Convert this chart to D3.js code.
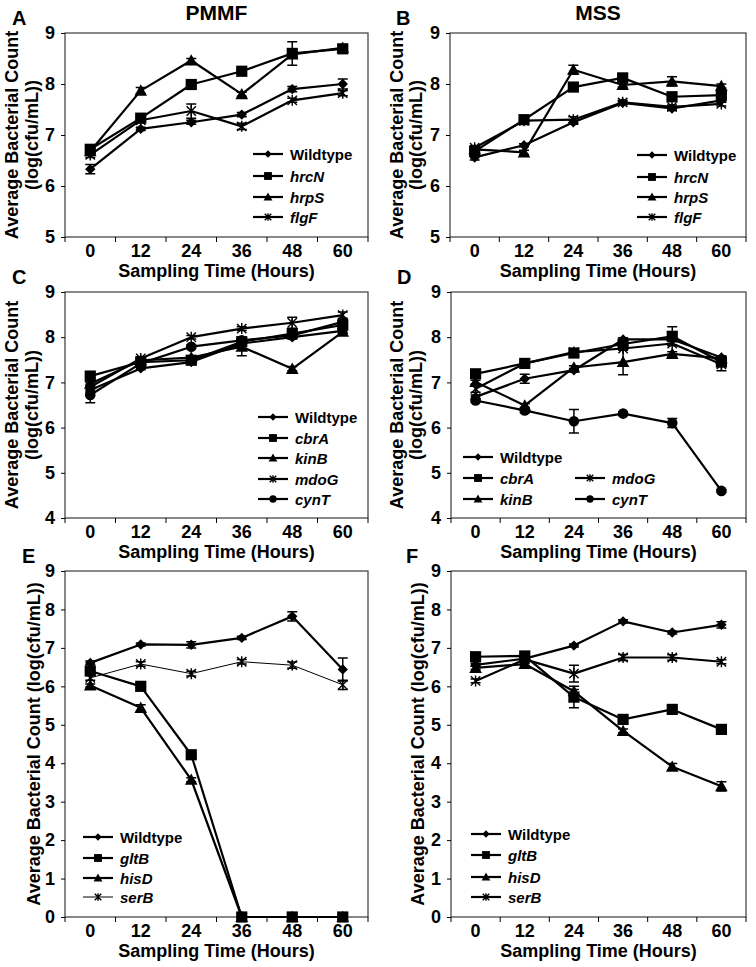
<!DOCTYPE html>
<html><head><meta charset="utf-8">
<script src="https://cdn.jsdelivr.net/npm/d3@7"></script>
<style>
body{margin:0;background:#fff}
svg{display:block}
text{font-family:"Liberation Sans",Arial,sans-serif;font-weight:bold;fill:#000}
</style>
</head><body>
<svg id="chart" width="756" height="967"></svg>
<script>
// ---------- data ----------
const hours = ["0", "12", "24", "36", "48", "60"];
const ticksAB = [5, 6, 7, 8, 9];
const ticksCD = [4, 5, 6, 7, 8, 9];
const ticksEF = [0, 1, 2, 3, 4, 5, 6, 7, 8, 9];
const columnTitles = ["PMMF", "MSS"];
const yTitleLine1 = "Average Bacterial Count";
const yTitleLine2 = "(log(cfu/mL))";
const xTitle = "Sampling Time (Hours)";

// Panel A (PMMF)
const aWildtype = [6.33, 7.12, 7.25, 7.40, 7.90, 8.00];
const aWildtypeErr = [0.09, 0.03, 0.04, 0.04, 0.05, 0.10];
const aHrcN = [6.72, 7.33, 7.99, 8.25, 8.60, 8.69];
const aHrcNErr = [0.04, 0.04, 0.04, 0.03, 0.23, 0.05];
const aHrpS = [6.68, 7.87, 8.46, 7.80, 8.58, 8.71];
const aHrpSErr = [0.03, 0.06, 0.04, 0.04, 0.05, 0.04];
const aFlgF = [6.61, 7.29, 7.47, 7.17, 7.68, 7.82];
const aFlgFErr = [0.05, 0.03, 0.14, 0.06, 0.04, 0.05];

// Panel B (MSS)
const bWildtype = [6.56, 6.80, 7.25, 7.63, 7.52, 7.68];
const bWildtypeErr = [0.05, 0.03, 0.04, 0.03, 0.04, 0.04];
const bHrcN = [6.68, 7.30, 7.94, 8.12, 7.75, 7.78];
const bHrcNErr = [0.04, 0.03, 0.04, 0.04, 0.04, 0.05];
const bHrpS = [6.72, 6.66, 8.28, 7.98, 8.05, 7.96];
const bHrpSErr = [0.04, 0.04, 0.09, 0.04, 0.09, 0.04];
const bFlgF = [6.75, 7.28, 7.30, 7.64, 7.55, 7.61];
const bFlgFErr = [0.04, 0.03, 0.06, 0.04, 0.04, 0.04];

// Panel C (PMMF)
const cWildtype = [6.83, 7.31, 7.45, 7.86, 8.00, 8.14];
const cWildtypeErr = [0.05, 0.03, 0.04, 0.04, 0.04, 0.04];
const cCbrA = [7.14, 7.45, 7.49, 7.90, 8.08, 8.27];
const cCbrAErr = [0.04, 0.03, 0.06, 0.04, 0.05, 0.06];
const cKinB = [6.97, 7.49, 7.55, 7.79, 7.30, 8.12];
const cKinBErr = [0.04, 0.04, 0.04, 0.20, 0.05, 0.04];
const cMdoG = [6.90, 7.53, 8.00, 8.19, 8.32, 8.49];
const cMdoGErr = [0.04, 0.04, 0.04, 0.04, 0.12, 0.07];
const cCynT = [6.72, 7.42, 7.79, 7.93, 8.04, 8.34];
const cCynTErr = [0.17, 0.04, 0.04, 0.04, 0.04, 0.04];

// Panel D (MSS)
const dWildtype = [6.68, 7.08, 7.27, 7.95, 7.95, 7.55];
const dWildtypeErr = [0.04, 0.10, 0.04, 0.04, 0.04, 0.04];
const dCbrA = [7.19, 7.42, 7.65, 7.85, 8.02, 7.45];
const dCbrAErr = [0.04, 0.04, 0.04, 0.04, 0.21, 0.05];
const dKinB = [7.01, 6.49, 7.33, 7.45, 7.63, 7.53];
const dKinBErr = [0.04, 0.04, 0.04, 0.28, 0.05, 0.04];
const dMdoG = [6.86, 7.42, 7.67, 7.75, 7.86, 7.40];
const dMdoGErr = [0.08, 0.04, 0.04, 0.04, 0.04, 0.14];
const dCynT = [6.60, 6.38, 6.14, 6.31, 6.10, 4.60];
const dCynTErr = [0.04, 0.05, 0.26, 0.04, 0.10, 0.03];

// Panel E (PMMF)
const eWildtype = [6.61, 7.09, 7.08, 7.26, 7.82, 6.44];
const eWildtypeErr = [0.05, 0.04, 0.08, 0.04, 0.12, 0.30];
const eGltB = [6.40, 6.00, 4.22, 0, 0, 0];
const eGltBErr = [0.05, 0.04, 0.05, 0, 0, 0];
const eHisD = [6.02, 5.44, 3.57, 0, 0, 0];
const eHisDErr = [0.04, 0.08, 0.05, 0, 0, 0];
const eSerB = [6.22, 6.58, 6.33, 6.64, 6.55, 6.04];
const eSerBErr = [0.06, 0.06, 0.06, 0.06, 0.08, 0.12];

// Panel F (MSS)
const fWildtype = [6.56, 6.72, 7.06, 7.69, 7.40, 7.60];
const fWildtypeErr = [0.04, 0.04, 0.04, 0.04, 0.04, 0.08];
const fGltB = [6.77, 6.79, 5.72, 5.14, 5.40, 4.88];
const fGltBErr = [0.04, 0.04, 0.28, 0.05, 0.05, 0.05];
const fHisD = [6.48, 6.58, 5.87, 4.84, 3.91, 3.40];
const fHisDErr = [0.04, 0.04, 0.05, 0.05, 0.08, 0.12];
const fSerB = [6.14, 6.70, 6.33, 6.75, 6.75, 6.64];
const fSerBErr = [0.05, 0.04, 0.22, 0.08, 0.07, 0.05];

// ---------- panel setup (built from the arrays above) ----------
const panels = [
  { letter: "A", title: columnTitles[0], box: [65, 368, 33, 237], ticks: ticksAB, twoLine: true,
    series: [
      { name: "Wildtype", italic: false, sym: "diamond", v: aWildtype, e: aWildtypeErr },
      { name: "hrcN", italic: true, sym: "square", v: aHrcN, e: aHrcNErr },
      { name: "hrpS", italic: true, sym: "triangle", v: aHrpS, e: aHrpSErr },
      { name: "flgF", italic: true, sym: "star", v: aFlgF, e: aFlgFErr }],
    legend: { x: 253, rows: [[0,154],[0,176],[0,197],[0,217]] } },
  { letter: "B", title: columnTitles[1], box: [450, 746, 33, 237], ticks: ticksAB, twoLine: true,
    series: [
      { name: "Wildtype", italic: false, sym: "diamond", v: bWildtype, e: bWildtypeErr },
      { name: "hrcN", italic: true, sym: "square", v: bHrcN, e: bHrcNErr },
      { name: "hrpS", italic: true, sym: "triangle", v: bHrpS, e: bHrpSErr },
      { name: "flgF", italic: true, sym: "star", v: bFlgF, e: bFlgFErr }],
    legend: { x: 637, rows: [[0,155],[0,177],[0,197],[0,217]] } },
  { letter: "C", box: [65, 368, 292, 518], ticks: ticksCD, twoLine: true,
    series: [
      { name: "Wildtype", italic: false, sym: "diamond", v: cWildtype, e: cWildtypeErr },
      { name: "cbrA", italic: true, sym: "square", v: cCbrA, e: cCbrAErr },
      { name: "kinB", italic: true, sym: "triangle", v: cKinB, e: cKinBErr },
      { name: "mdoG", italic: true, sym: "star", v: cMdoG, e: cMdoGErr },
      { name: "cynT", italic: true, sym: "circle", v: cCynT, e: cCynTErr }],
    legend: { x: 258, rows: [[0,417],[0,438],[0,458],[0,479],[0,499]] } },
  { letter: "D", box: [451, 746, 292, 518], ticks: ticksCD, twoLine: true,
    series: [
      { name: "Wildtype", italic: false, sym: "diamond", v: dWildtype, e: dWildtypeErr },
      { name: "cbrA", italic: true, sym: "square", v: dCbrA, e: dCbrAErr },
      { name: "kinB", italic: true, sym: "triangle", v: dKinB, e: dKinBErr },
      { name: "mdoG", italic: true, sym: "star", v: dMdoG, e: dMdoGErr },
      { name: "cynT", italic: true, sym: "circle", v: dCynT, e: dCynTErr }],
    legend: { x: 463, rows: [[0,457],[0,478],[0,499],[112,478],[112,499]] } },
  { letter: "E", box: [65, 368, 571, 917], ticks: ticksEF, twoLine: false,
    series: [
      { name: "Wildtype", italic: false, sym: "diamond", v: eWildtype, e: eWildtypeErr },
      { name: "gltB", italic: true, sym: "square", v: eGltB, e: eGltBErr },
      { name: "hisD", italic: true, sym: "triangle", v: eHisD, e: eHisDErr },
      { name: "serB", italic: true, sym: "star", v: eSerB, e: eSerBErr, thin: true }],
    legend: { x: 83, rows: [[0,837],[0,858],[0,878],[0,897]] } },
  { letter: "F", box: [451, 746, 571, 917], ticks: ticksEF, twoLine: false,
    series: [
      { name: "Wildtype", italic: false, sym: "diamond", v: fWildtype, e: fWildtypeErr },
      { name: "gltB", italic: true, sym: "square", v: fGltB, e: fGltBErr },
      { name: "hisD", italic: true, sym: "triangle", v: fHisD, e: fHisDErr },
      { name: "serB", italic: true, sym: "star", v: fSerB, e: fSerBErr }],
    legend: { x: 471, rows: [[0,834],[0,855],[0,877],[0,897]] } }
];

const svg = d3.select("#chart");

function drawSymbol(g, sym, cx, cy, big) {
  const k = big ? 1 : 0.7;
  if (sym === "diamond") {
    const s = 5.2 * k;
    g.append("path").attr("d", `M${cx},${cy - s}L${cx + s},${cy}L${cx},${cy + s}L${cx - s},${cy}Z`).attr("fill", "#000");
  } else if (sym === "square") {
    const s = 5.6 * k;
    g.append("rect").attr("x", cx - s).attr("y", cy - s).attr("width", 2 * s).attr("height", 2 * s).attr("fill", "#000");
  } else if (sym === "triangle") {
    const s = 6.3 * k;
    g.append("path").attr("d", `M${cx},${cy - s}L${cx + s},${cy + s * 0.8}L${cx - s},${cy + s * 0.8}Z`).attr("fill", "#000");
  } else if (sym === "circle") {
    g.append("circle").attr("cx", cx).attr("cy", cy).attr("r", 5.3 * k).attr("fill", "#000");
  } else if (sym === "star") {
    const s = 5.5 * k, d = s * 0.85;
    g.append("path").attr("d", `M${cx},${cy - s}V${cy + s}M${cx - d},${cy - d}L${cx + d},${cy + d}M${cx - d},${cy + d}L${cx + d},${cy - d}`)
      .attr("stroke", "#000").attr("stroke-width", 1.4).attr("fill", "none");
  }
}

panels.forEach((p, pi) => {
  const [x0, x1, y0, y1] = p.box;
  const x = d3.scaleBand().domain(hours).range([x0, x1]);
  const y = d3.scaleLinear().domain([p.ticks[0], p.ticks[p.ticks.length - 1]]).range([y1, y0]);
  const g = svg.append("g");

  // frame
  g.append("rect").attr("x", x0).attr("y", y0).attr("width", x1 - x0).attr("height", y1 - y0)
    .attr("fill", "none").attr("stroke", "#3a3a3a").attr("stroke-width", 1.2);

  // y axis
  const ya = g.append("g").attr("transform", `translate(${x0},0)`)
    .call(d3.axisLeft(y).tickValues(p.ticks).tickSize(4).tickPadding(6).tickFormat(d3.format("d")));
  ya.select(".domain").remove();
  ya.selectAll("line").attr("stroke", "#000");
  ya.selectAll("text").attr("font-size", 18).attr("font-family", null).style("font-weight", "bold").attr("fill", "#000");

  // x axis labels
  const xa = g.append("g").attr("transform", `translate(0,${y1})`)
    .call(d3.axisBottom(x).tickSize(0).tickPadding(7));
  xa.select(".domain").remove();
  xa.selectAll("text").attr("font-size", 18).attr("font-family", null).style("font-weight", "bold").attr("fill", "#000");
  // boundary ticks
  d3.range(hours.length + 1).forEach(i => {
    const xx = x0 + i * x.step();
    g.append("line").attr("x1", xx).attr("x2", xx).attr("y1", y1).attr("y2", y1 + 5).attr("stroke", "#000");
  });

  // x title
  g.append("text").attr("x", (x0 + x1) / 2).attr("y", y1 + 40).attr("text-anchor", "middle")
    .attr("font-size", 18).text(xTitle);

  // y title
  const yc = (y0 + y1) / 2;
  const col = pi % 2;
  if (p.twoLine) {
    const lx1 = col === 0 ? 12 : 397;
    const lx2 = col === 0 ? 32 : 416;
    g.append("text").attr("transform", `translate(${lx1},${yc}) rotate(-90)`).attr("text-anchor", "middle")
      .attr("dominant-baseline", "central").attr("font-size", 18).text(yTitleLine1);
    g.append("text").attr("transform", `translate(${lx2},${yc}) rotate(-90)`).attr("text-anchor", "middle")
      .attr("dominant-baseline", "central").attr("font-size", 18).text(yTitleLine2);
  } else {
    const lx = col === 0 ? 34 : 418;
    g.append("text").attr("transform", `translate(${lx},${yc}) rotate(-90)`).attr("text-anchor", "middle")
      .attr("dominant-baseline", "central").attr("font-size", 18).text(yTitleLine1 + " " + yTitleLine2);
  }

  // panel letter
  const letterX = { A: 12, B: 396, C: 12, D: 397, E: 22, F: 406 }[p.letter];
  g.append("text").attr("x", letterX).attr("y", y0 - 8).attr("font-size", 20).text(p.letter);

  // column title
  if (p.title) {
    g.append("text").attr("x", (x0 + x1) / 2).attr("y", 20).attr("text-anchor", "middle")
      .attr("font-size", 21).text(p.title);
  }

  // series: lines, error bars, markers
  const cx = h => x(h) + x.bandwidth() / 2;
  p.series.forEach(s => {
    const line = d3.line().x((d, i) => cx(hours[i])).y(d => y(d));
    g.append("path").attr("d", line(s.v)).attr("fill", "none").attr("stroke", "#000")
      .attr("stroke-width", s.thin ? 1 : 2.2).attr("stroke-linejoin", "round");
  });
  p.series.forEach(s => {
    s.v.forEach((v, i) => {
      const err = s.e[i];
      if (err > 0) {
        const xx = cx(hours[i]);
        const yt = y(v + err), yb = y(Math.max(v - err, p.ticks[0]));
        g.append("path").attr("d", `M${xx},${yt}V${yb}M${xx - 5},${yt}H${xx + 5}M${xx - 5},${yb}H${xx + 5}`)
          .attr("stroke", "#000").attr("stroke-width", 1.5).attr("fill", "none");
      }
    });
  });
  p.series.forEach(s => {
    s.v.forEach((v, i) => drawSymbol(g, s.sym, cx(hours[i]), y(v), true));
  });

  // legend
  p.series.forEach((s, i) => {
    const [dx, ly] = p.legend.rows[i];
    const lx = p.legend.x + dx;
    g.append("line").attr("x1", lx).attr("x2", lx + 30).attr("y1", ly).attr("y2", ly)
      .attr("stroke", "#000").attr("stroke-width", s.thin ? 1 : 2.2);
    drawSymbol(g, s.sym, lx + 15, ly, false);
    g.append("text").attr("x", lx + 37).attr("y", ly).attr("dominant-baseline", "central")
      .attr("font-size", 15).style("font-style", s.italic ? "italic" : "normal").text(s.name);
  });
});
</script>
</body></html>
